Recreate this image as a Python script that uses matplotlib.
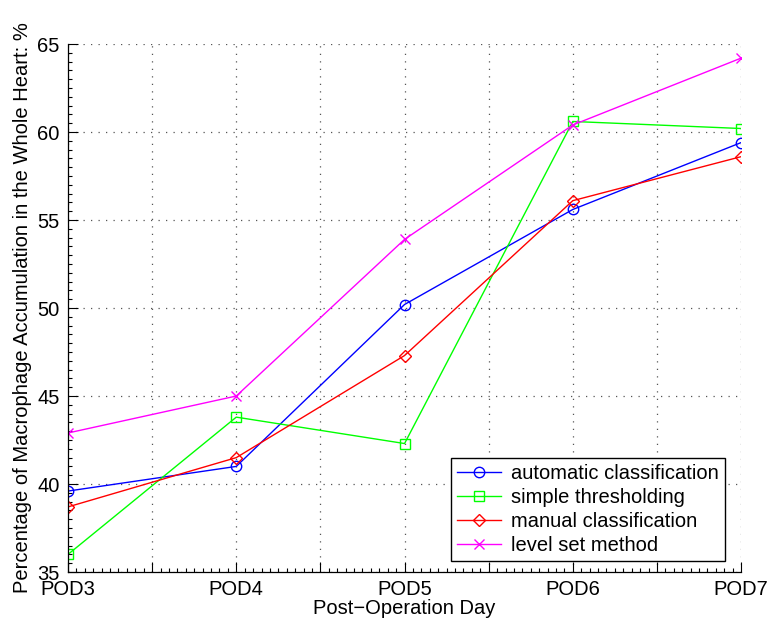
import matplotlib
matplotlib.use("Agg")
import matplotlib.pyplot as plt
from matplotlib.ticker import MultipleLocator
import numpy as np

plt.rcParams['font.family'] = ['Liberation Sans', 'DejaVu Sans']

days = ["POD3", "POD4", "POD5", "POD6", "POD7"]
automatic = [39.6, 41.0, 50.2, 55.6, 59.4]
thresholding = [36.0, 43.8, 42.3, 60.6, 60.2]
manual = [38.7, 41.5, 47.3, 56.1, 58.6]
level_set = [42.9, 45.0, 53.9, 60.4, 64.2]

series = [
    (automatic, 'automatic classification', '#0000ff', 'o', 7.5),
    (thresholding, 'simple thresholding', '#00ff00', 's', 7),
    (manual, 'manual classification', '#ff0000', 'D', 6.5),
    (level_set, 'level set method', '#ff00ff', 'x', 6.5),
]

fig = plt.figure(figsize=(7.71, 6.29), dpi=100)
ax = fig.add_axes([0.0882, 0.0906, 0.873, 0.8394])

x = np.arange(len(days))
for vals, name, col, mk, ms in series:
    ax.plot(x, vals, color=col, marker=mk, markersize=ms, markerfacecolor='none',
            markeredgecolor=col, markeredgewidth=1, linewidth=1, label=name)

ax.set_xlim(0, len(days) - 1)
ax.set_ylim(35, 65)

ticks = np.arange(0, len(days) - 0.99, 0.5)
ax.set_xticks(ticks)
ax.set_xticklabels([days[int(t)] if t == int(t) else '' for t in ticks])
ax.xaxis.set_minor_locator(MultipleLocator(0.05))
ax.yaxis.set_major_locator(MultipleLocator(5))
ax.yaxis.set_minor_locator(MultipleLocator(0.5))

ax.tick_params(which='both', direction='in', labelsize=14.5, width=0.8)
ax.tick_params(which='major', length=7)
ax.tick_params(which='minor', length=3)
ax.tick_params(axis='x', pad=6)
ax.tick_params(axis='y', pad=6)

ax.spines['top'].set_visible(False)
ax.spines['right'].set_visible(False)
for s in ('left', 'bottom'):
    ax.spines[s].set_linewidth(0.9)

ax.grid(True, which='major', linestyle=(0, (1, 5)), color='#555555', linewidth=0.9)

ax.set_xlabel('Post\u2212Operation Day', fontsize=14.5, labelpad=0)
ax.set_ylabel('Percentage of Macrophage Accumulation in the Whole Heart: %', fontsize=14.5, labelpad=4)

leg = ax.legend(loc='lower right', bbox_to_anchor=(0.976, 0.02), fontsize=14.5,
                fancybox=False, edgecolor='black', framealpha=1, handlelength=2.2,
                borderpad=0.3, labelspacing=0.25, handletextpad=0.5, borderaxespad=0)
leg.get_frame().set_linewidth(1.0)

fig.savefig('out.png', dpi=100)
